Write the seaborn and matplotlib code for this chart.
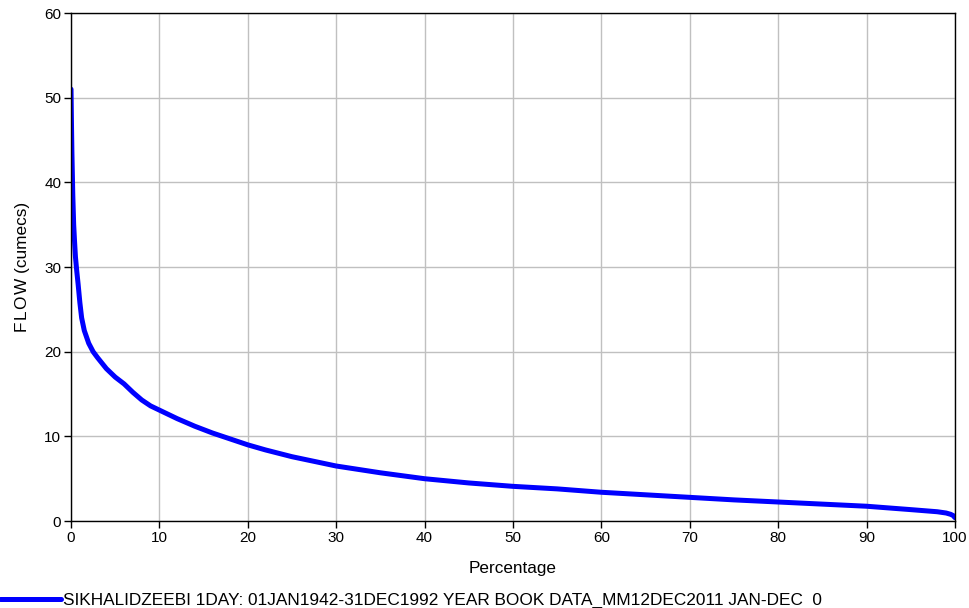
import pandas as pd
import seaborn as sns
import matplotlib
matplotlib.use("Agg")
import matplotlib.pyplot as plt

# -----------------------
# Flow duration curve values
# -----------------------

percentage = [0, 0.05, 0.1, 0.2, 0.3, 0.4, 0.5, 0.65, 0.8, 1, 1.2, 1.5, 2,
              2.5, 3, 4, 5, 6, 7, 8, 9, 10, 12, 14, 16, 18, 20, 22, 25, 30,
              35, 40, 45, 50, 55, 60, 65, 70, 75, 80, 85, 90, 95, 98, 99,
              99.5, 99.8, 100]
flow = [51, 47, 43.5, 38.5, 35, 33, 31.2, 29.5, 28, 25.8, 24, 22.5, 21,
        20, 19.3, 18, 17, 16.2, 15.2, 14.3, 13.6, 13.1, 12.1, 11.2, 10.4,
        9.7, 9.0, 8.4, 7.6, 6.5, 5.7, 5.0, 4.5, 4.1, 3.8, 3.4, 3.1, 2.8,
        2.5, 2.25, 2.0, 1.75, 1.35, 1.1, 0.95, 0.8, 0.65, 0.4]
series_name = "SIKHALIDZEEBI 1DAY: 01JAN1942-31DEC1992 YEAR BOOK DATA_MM12DEC2011 JAN-DEC  0"

df = pd.DataFrame({"Percentage": percentage, "Flow": flow})

# -----------------------
# Plot
# -----------------------

sns.set_style("white")
plt.rcParams["font.family"] = ["Liberation Sans", "DejaVu Sans"]
plt.rcParams["text.color"] = "black"
plt.rcParams["axes.labelcolor"] = "black"
plt.rcParams["xtick.color"] = "black"
plt.rcParams["ytick.color"] = "black"

fig = plt.figure(figsize=(9.69, 6.08), dpi=100)
ax = fig.add_axes([0.0733, 0.143, 0.9122, 0.8356])

sns.lineplot(data=df, x="Percentage", y="Flow", ax=ax,
             color="#0000ff", linewidth=3.6, label=series_name)

ax.set_xlim(0, 100)
ax.set_ylim(0, 60)
ax.set_xticks(range(0, 101, 10))
ax.set_yticks(range(0, 61, 10))
ax.grid(True, color="#c0c0c0", linewidth=1)
ax.set_axisbelow(True)
for s in ax.spines.values():
    s.set_color("black")
    s.set_linewidth(1)
ax.tick_params(axis="both", direction="out", length=5, width=1,
               color="black", labelcolor="black", labelsize=11, pad=2,
               bottom=True, left=True)

ax.set_xlabel("Percentage", fontsize=12.3, labelpad=12)
ax.set_ylabel("F\u200aL\u200aO\u200aW (cumecs)", fontsize=12.4, labelpad=10)

ax.legend(loc="upper left", bbox_to_anchor=(-0.080, -0.141), frameon=False,
          fontsize=12.4, handlelength=3.5, handletextpad=0.15,
          borderaxespad=0, borderpad=0)

fig.savefig("out.png", dpi=100)
